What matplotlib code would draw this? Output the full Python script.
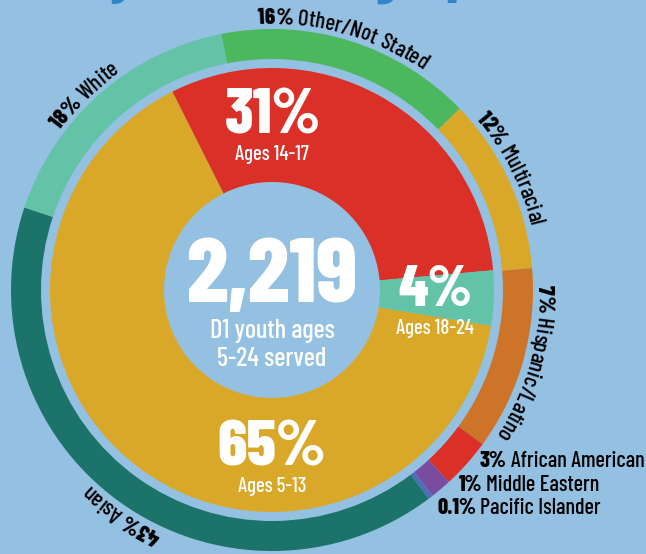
import numpy as np
import matplotlib
matplotlib.use("Agg")
import matplotlib.pyplot as plt

# inner donut: age groups
age_labels = ["Ages 14-17", "Ages 18-24", "Ages 5-13"]
age_pct = [31, 4, 65]
age_colors = ["#da3027", "#63c3a7", "#daa828"]

# outer ring: ethnicity (labels as printed, arc share as drawn)
eth_names = ["White", "Other/Not Stated", "Multiracial", "Hispanic/Latino",
             "African American", "Middle Eastern", "Pacific Islander", "Asian"]
eth_pct = ["18%", "16%", "12%", "7%", "3%", "1%", "0.1%", "43%"]
eth_share = [16.8, 15.9, 10.9, 11.4, 3.1, 1.3, 0.3, 40.4]
eth_colors = ["#63c3a7", "#4cb85d", "#daa828", "#cd7429",
              "#da3027", "#7a4c9f", "#4d6eb6", "#1c7369"]

total = "2,219"
subtitle = "D1 youth ages\n5-24 served"
title = "D1 youth demographics"

BG = "#94c0e1"
FONT = ["Barlow Condensed", "DejaVu Sans"]
plt.rcParams["font.family"] = FONT

W, H = 646, 554
fig = plt.figure(figsize=(W / 100, H / 100), dpi=100, facecolor=BG)
ax = fig.add_axes([0, 0, 1, 1])
ax.set_facecolor(BG)
cx, cy = 272, H - 290

ax.pie(eth_share, colors=eth_colors, radius=261, center=(cx, cy),
       startangle=161.6, counterclock=False, frame=True,
       wedgeprops=dict(width=30, linewidth=0))
ax.pie(age_pct, colors=age_colors, radius=222, center=(cx, cy),
       startangle=116.7, counterclock=False, frame=True,
       wedgeprops=dict(width=114, linewidth=0))
ax.set_xlim(0, W)
ax.set_ylim(0, H)
ax.set_aspect("equal")
ax.axis("off")

renderer = fig.canvas.get_renderer()


def text_w(s, size, weight):
    t = ax.text(0, 0, s, fontsize=size, fontweight=weight)
    w = t.get_window_extent(renderer).width
    t.remove()
    return w


# title runs off the top edge, only its descenders show
iy, ig = title.index("y"), title.index("g")
y_off = text_w(title[:iy], 48, "bold") + text_w("y", 48, "bold") / 2
g_off = text_w(title[:ig], 48, "bold") + text_w("g", 48, "bold") / 2
tsize = 48 * 262 / (g_off - y_off)
ax.text(123 - y_off * tsize / 48, H + 8, title, color="#2e86c8", fontsize=tsize,
        fontweight="bold", ha="left", va="baseline")


def arc_text(parts, start_deg, r, size=16.5):
    # parts: list of (string, weight); laid clockwise, tops outward
    s_all = "".join(p for p, _ in parts)
    weights = []
    for p, wgt in parts:
        weights += [wgt] * len(p)
    pos = 0.0
    for i, ch in enumerate(s_all):
        if ch == " ":
            cw = text_w("a a", size, weights[i]) - 2 * text_w("a", size, weights[i])
        else:
            cw = text_w(ch, size, weights[i])
        a = np.radians(start_deg) - (pos + cw / 2) / r
        ax.text(cx + r * np.cos(a), cy + r * np.sin(a), ch, fontsize=size,
                fontweight=weights[i], ha="center", va="baseline",
                rotation=np.degrees(a) - 90, rotation_mode="anchor", color="black")
        pos += cw


arc_starts = {"White": 143, "Other/Not Stated": 93, "Multiracial": 40,
              "Hispanic/Latino": 1, "Asian": -114.5}
for name, pct in zip(eth_names, eth_pct):
    if name in arc_starts:
        arc_text([(pct, "heavy"), (" " + name, "medium")], arc_starts[name], 266)

# small groups listed at the lower right
side = {"African American": (480, H - 461), "Middle Eastern": (459, H - 485),
        "Pacific Islander": (437, H - 508)}
for name, pct in zip(eth_names, eth_pct):
    if name in side:
        x, y = side[name]
        t1 = ax.text(x, y, pct, fontsize=16, fontweight="heavy",
                     va="center", ha="left")
        w1 = t1.get_window_extent(renderer).width
        ax.text(x + w1 + 4, y, name, fontsize=16, fontweight="medium",
                va="center", ha="left")

# inner donut labels
pct_pos = [(273, H - 117), (435, H - 291), (272, H - 449)]
pct_size = [46, 42, 47]
lab_pos = [(272, H - 155), (435, H - 328), (272, H - 486)]
for lab, pct, p, sz, q in zip(age_labels, age_pct, pct_pos, pct_size, lab_pos):
    ax.text(p[0], p[1], f"{pct}%", color="white", fontsize=sz, fontweight="heavy",
            ha="center", va="center")
    ax.text(q[0], q[1], lab, color="white", fontsize=15, fontweight="medium",
            ha="center", va="center")

ax.text(cx, H - 279, total, color="white", fontsize=66, fontweight="heavy",
        ha="center", va="center")
ax.text(cx, H - 345, subtitle, color="white", fontsize=19, fontweight="medium",
        ha="center", va="center", linespacing=1.2)

fig.savefig("out.png", dpi=100, facecolor=BG)
